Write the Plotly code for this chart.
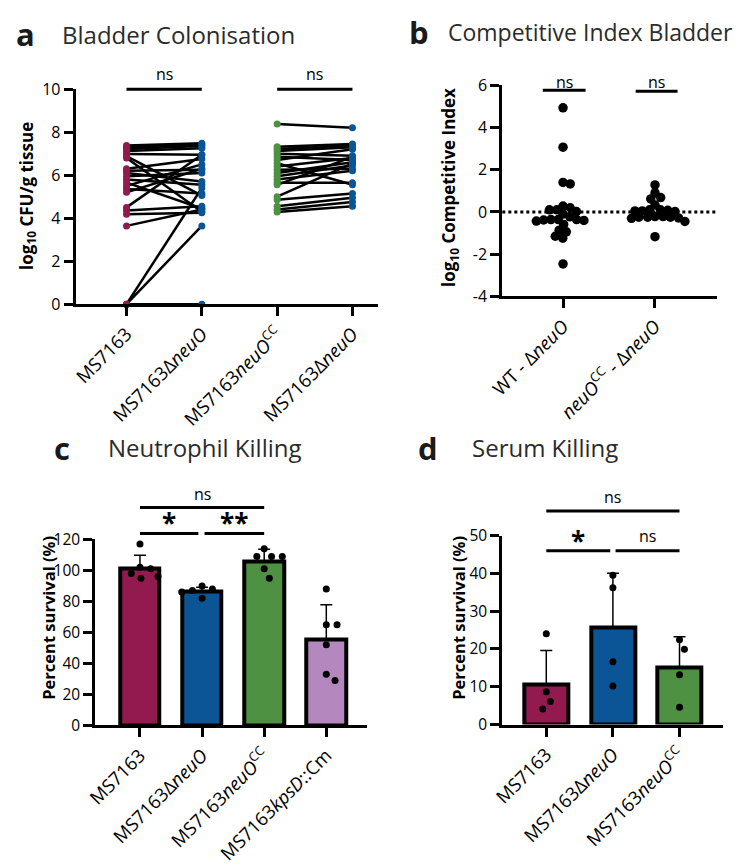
import math
import plotly.graph_objects as go

W, H = 745, 865
FONT = "Open Sans"
TXT = "#2b2b2b"

# ---------------- DATA ----------------
# Panel a: paired log10 CFU/g tissue
a_left_wt = [7.38, 7.30, 7.22, 7.12, 6.98, 6.88, 6.80, 6.30, 6.20, 6.10, 5.95, 5.80,
             5.65, 5.50, 5.35, 5.20, 4.50, 4.35, 4.18, 3.64, 0.0, 0.0, 0.0]
a_left_del = [7.48, 7.40, 7.35, 7.25, 6.95, 5.05, 4.30, 6.75, 6.25, 5.70, 6.10, 5.55,
              4.45, 6.50, 5.15, 6.30, 6.95, 4.55, 4.25, 4.40, 5.40, 3.64, 0.0]
a_right_cc = [8.38, 7.32, 7.22, 7.12, 7.00, 6.85, 6.70, 6.55, 6.40, 6.25, 6.10, 5.95,
              5.80, 5.65, 5.55, 5.00, 4.85, 4.55, 4.40, 4.28]
a_right_del = [8.20, 7.45, 7.38, 7.30, 6.90, 6.70, 7.20, 5.55, 6.80, 6.30, 6.60, 6.45,
               6.20, 5.65, 6.85, 6.55, 5.15, 4.95, 4.75, 4.55]
a_ticks = ["MS7163", "MS7163Δ<i>neuO</i>", "MS7163<i>neuO</i><sup>CC</sup>", "MS7163Δ<i>neuO</i>"]

# Panel b: log10 competitive index
b_wt = [4.93, 3.07, 1.40, 1.33, 0.28, 0.20, 0.10, 0.10, 0.02, -0.10, -0.23, -0.36,
        -0.36, -0.36, -0.38, -0.40, -0.43, -0.59, -0.86, -0.94, -1.15, -1.24, -2.46]
b_cc = [1.28, 0.90, 0.68, 0.62, 0.33, 0.10, 0.10, 0.08, 0.05, 0.05, 0.02, -0.22,
        -0.22, -0.25, -0.25, -0.25, -0.28, -0.30, -0.45, -1.17]
b_ticks = ["WT - Δ<i>neuO</i>", "<i>neuO</i><sup>CC</sup> - Δ<i>neuO</i>"]

# Panel c: neutrophil killing (% survival)
c_ticks = ["MS7163", "MS7163Δ<i>neuO</i>", "MS7163<i>neuO</i><sup>CC</sup>", "MS7163<i>kpsD</i>::Cm"]
c_mean = [101.5, 86.5, 105.8, 55.5]
c_sd = [8.3, 2.6, 7.8, 22.3]
c_points = [[117, 102, 101, 98, 96, 95],
            [90, 88, 87, 86, 82],
            [114, 109, 109, 109, 101, 95],
            [88, 65, 65, 52, 33, 29]]

# Panel d: serum killing (% survival)
d_ticks = ["MS7163", "MS7163Δ<i>neuO</i>", "MS7163<i>neuO</i><sup>CC</sup>"]
d_mean = [10.7, 25.6, 15.0]
d_sd = [8.9, 14.4, 8.2]
d_points = [[24, 8.7, 6.1, 4.1],
            [39.5, 36.2, 16.6, 10.2],
            [22.4, 19.9, 13.2, 4.6]]

MAG, BLU, GRN, PUR = "#931A4F", "#0B5596", "#4E9142", "#B488BE"

# ---------------- LAYOUT HELPERS ----------------
def xdom(p0, p1):
    return [p0 / W, p1 / W]

def ydom(top, bot):
    return [1 - bot / H, 1 - top / H]

AX = {
    "a": dict(x="x", y="y", xr=[-0.675, 3.34], yr=[0, 10], xd=xdom(61, 370), yd=ydom(80, 303)),
    "b": dict(x="x2", y="y2", xr=[-0.66, 1.67], yr=[-4, 6], xd=xdom(497, 716), yd=ydom(76, 295)),
    "c": dict(x="x3", y="y3", xr=[-0.72, 3.66], yr=[0, 120], xd=xdom(81, 359), yd=ydom(547, 740)),
    "d": dict(x="x4", y="y4", xr=[-0.66, 2.66], yr=[0, 50], xd=xdom(497, 723), yd=ydom(543, 739)),
}

def px_per_unit(k):
    a = AX[k]
    ppx = (a["xd"][1] - a["xd"][0]) * W / (a["xr"][1] - a["xr"][0])
    ppy = (a["yd"][1] - a["yd"][0]) * H / (a["yr"][1] - a["yr"][0])
    return ppx, ppy

def beeswarm(vals, k, sep):
    ppx, ppy = px_per_unit(k)
    order = sorted(range(len(vals)), key=lambda i: -vals[i])
    placed = []
    offs = [0.0] * len(vals)
    for i in order:
        y = vals[i] * ppy
        cands = [0.0]
        for (py, pxx) in placed:
            dy = abs(y - py)
            if dy < sep:
                dx = math.sqrt(sep * sep - dy * dy)
                cands += [pxx + dx, pxx - dx]
        ok = [c for c in cands
              if all((c - pxx) ** 2 + (y - py) ** 2 >= sep * sep - 1e-6 for (py, pxx) in placed)]
        best = min(ok, key=lambda c: (abs(c), -c))
        placed.append((y, best))
        offs[i] = best / ppx
    return offs

fig = go.Figure()
shapes, annots = [], []

def fx(k, v):
    r = AX[k]["xr"]
    return (v - r[0]) / (r[1] - r[0])

def fy(k, v):
    r = AX[k]["yr"]
    return (v - r[0]) / (r[1] - r[0])

def bracket(k, x0, x1, y, text, ty, size=16, bold=False):
    a = AX[k]
    shapes.append(dict(type="line", xref=a["x"] + " domain", yref=a["y"] + " domain",
                       x0=fx(k, x0), x1=fx(k, x1), y0=fy(k, y), y1=fy(k, y),
                       line=dict(color="black", width=3)))
    annots.append(dict(xref=a["x"] + " domain", yref=a["y"] + " domain",
                       x=fx(k, (x0 + x1) / 2), y=fy(k, ty), text=("<b>%s</b>" % text) if bold else text,
                       showarrow=False, xanchor="center", yanchor="middle",
                       font=dict(family=FONT, size=size, color="black")))

# ---------------- PANEL A ----------------
lx, ly = [], []
for l, r in zip(a_left_wt, a_left_del):
    lx += [0, 1, None]
    ly += [l, r, None]
for l, r in zip(a_right_cc, a_right_del):
    lx += [2, 3, None]
    ly += [l, r, None]
fig.add_trace(go.Scatter(x=lx, y=ly, mode="lines", line=dict(color="black", width=2.5),
                         xaxis="x", yaxis="y", cliponaxis=False, showlegend=False))
for xi, vals, col in [(0, a_left_wt, MAG), (1, a_left_del, BLU), (2, a_right_cc, GRN), (3, a_right_del, BLU)]:
    fig.add_trace(go.Scatter(x=[xi] * len(vals), y=vals, mode="markers",
                             marker=dict(color=col, size=7), xaxis="x", yaxis="y",
                             cliponaxis=False, showlegend=False))
bracket("a", 0, 1, 10.0, "ns", 10.7)
bracket("a", 2, 3, 10.0, "ns", 10.7)

# ---------------- PANEL B ----------------
shapes.append(dict(type="line", xref="x2 domain", yref="y2", x0=0, x1=1, y0=0, y1=0,
                   line=dict(color="black", width=3, dash="dot"), layer="below"))
for xi, vals in [(0, b_wt), (1, b_cc)]:
    offs = beeswarm(vals, "b", 7.5)
    fig.add_trace(go.Scatter(x=[xi + o for o in offs], y=vals, mode="markers",
                             marker=dict(color="black", size=9.5), xaxis="x2", yaxis="y2",
                             cliponaxis=False, showlegend=False))
bracket("b", -0.22, 0.245, 5.77, "ns", 6.15)
bracket("b", 0.79, 1.245, 5.72, "ns", 6.15)

# ---------------- PANEL C ----------------
fig.add_trace(go.Bar(x=list(range(4)), y=c_mean, width=0.63,
                     marker=dict(color=[MAG, BLU, GRN, PUR], line=dict(color="black", width=4)),
                     error_y=dict(type="data", array=c_sd, arrayminus=[0] * 4, symmetric=False,
                                  color="black", thickness=1.5, width=6),
                     xaxis="x3", yaxis="y3", showlegend=False))
for xi, vals in enumerate(c_points):
    offs = beeswarm(vals, "c", 11)
    fig.add_trace(go.Scatter(x=[xi + o for o in offs], y=vals, mode="markers",
                             marker=dict(color="black", size=7), xaxis="x3", yaxis="y3",
                             cliponaxis=False, showlegend=False))
bracket("c", 0, 2, 140.6, "ns", 149.4)
bracket("c", 0, 0.94, 123.8, "*", 130.5, size=26, bold=True)
bracket("c", 1.04, 2, 123.8, "**", 130.5, size=26, bold=True)

# ---------------- PANEL D ----------------
fig.add_trace(go.Bar(x=list(range(3)), y=d_mean, width=0.66,
                     marker=dict(color=[MAG, BLU, GRN], line=dict(color="black", width=4)),
                     error_y=dict(type="data", array=d_sd, arrayminus=[0] * 3, symmetric=False,
                                  color="black", thickness=1.5, width=6),
                     xaxis="x4", yaxis="y4", showlegend=False))
for xi, vals in enumerate(d_points):
    offs = beeswarm(vals, "d", 11)
    fig.add_trace(go.Scatter(x=[xi + o for o in offs], y=vals, mode="markers",
                             marker=dict(color="black", size=7), xaxis="x4", yaxis="y4",
                             cliponaxis=False, showlegend=False))
bracket("d", 0, 2, 56.5, "ns", 60.3)
bracket("d", 0, 0.96, 46.0, "*", 48.6, size=26, bold=True)
bracket("d", 1.04, 2, 46.0, "ns", 49.8)

# ---------------- AXES ----------------
def axis_common(ysize):
    return dict(showgrid=False, zeroline=False, showline=True, linecolor="black", linewidth=3,
                ticks="outside", ticklen=9, tickwidth=3, tickcolor="black",
                tickfont=dict(family=FONT, size=ysize, color="black"), fixedrange=True)

def yticks(r, step):
    vals = []
    v = r[0]
    while v <= r[1] + 1e-9:
        vals.append(v)
        v += step
    return vals, [("-" if t < 0 else "") + str(abs(int(t))) for t in vals]

layout_axes = {}
for k, xname, yname, ticktext, step, ysz in [("a", "xaxis", "yaxis", a_ticks, 2, 16),
                                             ("b", "xaxis2", "yaxis2", b_ticks, 2, 16),
                                             ("c", "xaxis3", "yaxis3", c_ticks, 20, 15.5),
                                             ("d", "xaxis4", "yaxis4", d_ticks, 10, 15.5)]:
    a = AX[k]
    xa = axis_common(ysz)
    xa.update(domain=a["xd"], range=a["xr"], anchor=a["y"], tickvals=list(range(len(ticktext))),
              ticktext=ticktext, tickangle=-45, tickfont=dict(family=FONT, size=18.5, color="black"))
    ya = axis_common(ysz)
    tv, tt = yticks(a["yr"], step)
    ya.update(domain=a["yd"], range=a["yr"], anchor=a["x"], tickvals=tv, ticktext=tt)
    layout_axes[xname] = xa
    layout_axes[yname] = ya

# ---------------- TITLES ----------------
def paper_text(px, py, text, size, anchor="left", angle=0, color=TXT):
    annots.append(dict(xref="paper", yref="paper", x=px / W, y=1 - py / H, text=text,
                       showarrow=False, xanchor=anchor, yanchor="middle", textangle=angle,
                       font=dict(family=FONT, size=size, color=color)))

for letter, lx_, tx, ty, title, tsz in [("a", -2, 45, 23, "Bladder Colonisation", 24),
                                         ("b", 400, 439, 21, "Competitive Index Bladder", 23),
                                         ("c", 37, 92, 452, "Neutrophil Killing", 24),
                                         ("d", 409, 464, 452, "Serum Killing", 24)]:
    paper_text(lx_, ty, "<b>%s</b>" % letter, 31, color="#1a1a1a")
    paper_text(tx, ty, title, tsz)

paper_text(11, 191, "<b>log<sub>10</sub> CFU/g tissue</b>", 17, anchor="center", angle=-90, color="black")
paper_text(443, 182, "<b>log<sub>10</sub> Competitive Index</b>", 17, anchor="center", angle=-90, color="black")
paper_text(33, 628, "<b>Percent survival (%)</b>", 16.5, anchor="center", angle=-90, color="black")
paper_text(452, 628, "<b>Percent survival (%)</b>", 16.5, anchor="center", angle=-90, color="black")

fig.update_layout(width=W, height=H, margin=dict(l=0, r=0, t=0, b=0),
                  paper_bgcolor="white", plot_bgcolor="white", showlegend=False,
                  font=dict(family=FONT, color="black"), bargap=0,
                  shapes=shapes, annotations=annots, **layout_axes)

fig.write_html("out.html",
               post_script="document.body.style.margin='0';document.body.style.overflow='hidden';")
